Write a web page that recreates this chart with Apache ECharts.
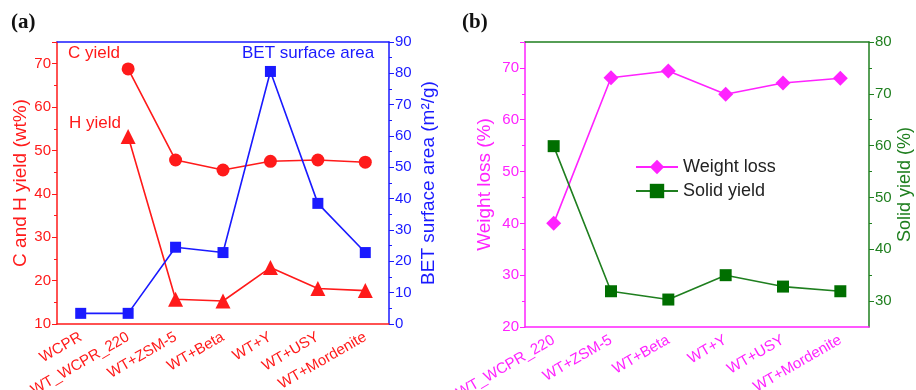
<!DOCTYPE html>
<html>
<head>
<meta charset="utf-8">
<script src="https://cdn.jsdelivr.net/npm/echarts@6/dist/echarts.min.js"></script>
<style>
  html, body { margin: 0; padding: 0; background: #fff; }
  #chart { width: 916px; height: 390px; }
</style>
</head>
<body>
<div id="chart"></div>
<script>
// panel (a)
const catsA = ['WCPR', 'WT_WCPR_220', 'WT+ZSM-5', 'WT+Beta', 'WT+Y', 'WT+USY', 'WT+Mordenite'];
const cYield = [null, 68.8, 47.8, 45.5, 47.5, 47.8, 47.3];
const hYield = [null, 53.2, 15.7, 15.3, 23.0, 18.2, 17.7];
const betArea = [3.4, 3.4, 24.5, 22.8, 80.6, 38.5, 22.8];

// panel (b)
const catsB = ['WT_WCPR_220', 'WT+ZSM-5', 'WT+Beta', 'WT+Y', 'WT+USY', 'WT+Mordenite'];
const weightLoss = [40.0, 68.1, 69.4, 64.9, 67.1, 68.0];
const solidYield = [59.9, 31.9, 30.3, 35.0, 32.8, 31.9];

// tick values for the solid yield axis (range starts at 25)
const solidTicks = [30, 40, 50, 60, 70, 80];
const solidMinorTicks = [35, 45, 55, 65, 75];

const RED = '#ff1a1a';
const BLUE = '#1a1aff';
const MAGENTA = '#ff22ff';
const GREEN = '#1f7f1f';
const FONT = 'Liberation Sans, Arial, sans-serif';

const chart = echarts.init(document.getElementById('chart'));

function yAxis(grid, pos, color, min, max, interval, name, gap) {
    return {
        type: 'value', gridIndex: grid, position: pos, min: min, max: max, interval: interval,
        name: name, nameLocation: 'middle', nameGap: gap,
        nameTextStyle: { color: color, fontSize: 19, fontFamily: FONT },
        axisLine: { show: true, lineStyle: { color: color, width: 1.5 } },
        axisTick: { show: true, length: 5, lineStyle: { color: color } },
        minorTick: { show: true, splitNumber: 2, length: 3, lineStyle: { color: color } },
        axisLabel: { color: color, fontSize: 15, fontFamily: FONT, margin: 6,
            showMaxLabel: max % interval === 0 },
        splitLine: { show: false }
    };
}

function xCat(grid, cats, color) {
    return {
        type: 'category', gridIndex: grid, data: cats, position: 'bottom',
        axisLine: { lineStyle: { color: color, width: 1.5 } },
        axisTick: { alignWithLabel: true, length: 5, lineStyle: { color: color } },
        axisLabel: { color: color, fontSize: 15, fontFamily: FONT, rotate: 30, interval: 0, margin: 12 },
        splitLine: { show: false }
    };
}

function xTop(grid, cats, color) {
    return {
        type: 'category', gridIndex: grid, data: cats, position: 'top',
        axisLine: { show: true, lineStyle: { color: color, width: 1.5 } },
        axisTick: { show: false }, axisLabel: { show: false }, splitLine: { show: false }
    };
}

const solidAxis = yAxis(1, 'right', GREEN, 25, 80, 10, 'Solid yield (%)', 27);
solidAxis.nameTextStyle.fontSize = 18;
solidAxis.axisTick.customValues = solidTicks;
solidAxis.axisLabel.customValues = solidTicks;
solidAxis.minorTick = { show: false };

const solidMinorAxis = {
    type: 'value', gridIndex: 1, position: 'right', min: 25, max: 80,
    axisLine: { show: false },
    axisTick: { show: true, length: 3, customValues: solidMinorTicks, lineStyle: { color: GREEN } },
    axisLabel: { show: false }, splitLine: { show: false }
};

const option = {
    backgroundColor: '#fff',
    animation: false,
    grid: [
        { left: 57, right: 527, top: 42, bottom: 66, outerBoundsMode: 'none' },
        { left: 525, right: 47, top: 42, bottom: 63, outerBoundsMode: 'none' }
    ],
    xAxis: [
        xCat(0, catsA, RED),
        xTop(0, catsA, BLUE),
        xCat(1, catsB, MAGENTA),
        xTop(1, catsB, GREEN)
    ],
    yAxis: [
        yAxis(0, 'left', RED, 10, 75, 10, 'C and H yield (wt%)', 27),
        yAxis(0, 'right', BLUE, 0, 90, 10, 'BET surface area (m²/g)', 30),
        yAxis(1, 'left', MAGENTA, 20, 75, 10, 'Weight loss (%)', 31),
        solidAxis,
        solidMinorAxis
    ],
    legend: {
        orient: 'vertical', left: 630, top: 153, itemWidth: 42, itemHeight: 18, itemGap: 6,
        textStyle: { color: '#222', fontSize: 18, fontFamily: FONT },
        data: ['Weight loss', 'Solid yield']
    },
    graphic: [
        { type: 'text', left: 11, top: 12, style: { text: '(a)', font: 'bold 21px "Liberation Serif", serif', fill: '#111' } },
        { type: 'text', left: 462, top: 12, style: { text: '(b)', font: 'bold 21px "Liberation Serif", serif', fill: '#111' } },
        { type: 'text', left: 68, top: 45, style: { text: 'C yield', font: '17px ' + FONT, fill: RED } },
        { type: 'text', left: 69, top: 115, style: { text: 'H yield', font: '17px ' + FONT, fill: RED } },
        { type: 'text', left: 242, top: 45, style: { text: 'BET surface area', font: '17px ' + FONT, fill: BLUE } }
    ],
    series: [
        {
            name: 'C yield', type: 'line', xAxisIndex: 0, yAxisIndex: 0, data: cYield,
            symbol: 'circle', symbolSize: 13, connectNulls: false,
            lineStyle: { color: RED, width: 1.6 }, itemStyle: { color: RED }
        },
        {
            name: 'H yield', type: 'line', xAxisIndex: 0, yAxisIndex: 0, data: hYield,
            symbol: 'triangle', symbolSize: 15,
            lineStyle: { color: RED, width: 1.6 }, itemStyle: { color: RED }
        },
        {
            name: 'BET surface area', type: 'line', xAxisIndex: 0, yAxisIndex: 1, data: betArea,
            symbol: 'rect', symbolSize: 11,
            lineStyle: { color: BLUE, width: 1.6 }, itemStyle: { color: BLUE }
        },
        {
            name: 'Weight loss', type: 'line', xAxisIndex: 2, yAxisIndex: 2, data: weightLoss,
            symbol: 'diamond', symbolSize: 15,
            lineStyle: { color: MAGENTA, width: 1.6 }, itemStyle: { color: MAGENTA }
        },
        {
            name: 'Solid yield', type: 'line', xAxisIndex: 2, yAxisIndex: 3, data: solidYield,
            symbol: 'rect', symbolSize: 12,
            lineStyle: { color: GREEN, width: 1.6 }, itemStyle: { color: '#006f00' }
        }
    ]
};

chart.setOption(option);
</script>
</body>
</html>
